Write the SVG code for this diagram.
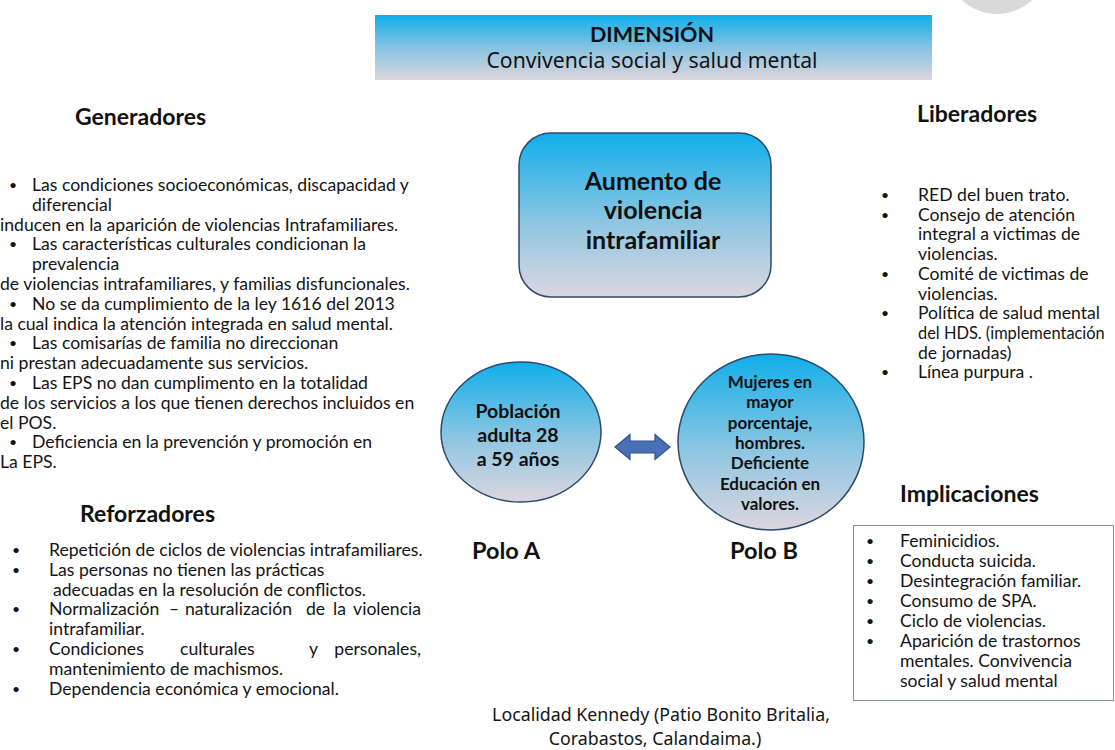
<svg xmlns="http://www.w3.org/2000/svg" width="1115" height="750" viewBox="0 0 1115 750">
  <defs>
    <linearGradient id="skyFade" x1="0" y1="0" x2="0" y2="1">
      <stop offset="0" stop-color="#0eaeea"/>
      <stop offset="0.5" stop-color="#86c3e2"/>
      <stop offset="1" stop-color="#dcd6dd"/>
    </linearGradient>
    <linearGradient id="poleFade" x1="0" y1="0" x2="0" y2="1">
      <stop offset="0" stop-color="#10aeea"/>
      <stop offset="0.55" stop-color="#8ec6e2"/>
      <stop offset="1" stop-color="#ddd6de"/>
    </linearGradient>
    <style>
      .txt { font-family: Lato, "Liberation Sans", sans-serif; font-size: 17.6px; fill: #141414; }
      .dot { font-size: 14px; }
      .end { text-anchor: end; }
      .head { font-family: Lato, "Liberation Sans", sans-serif; font-size: 23px; font-weight: bold; fill: #111; }
      .bold { font-family: Lato, "Liberation Sans", sans-serif; font-weight: bold; fill: #111; text-anchor: middle; }
      .ui { font-family: "Noto Sans", "Open Sans", sans-serif; fill: #141414; text-anchor: middle; }
      .shape { stroke: #2b4a6e; stroke-width: 1.5; }
    </style>
  </defs>

  <rect width="1115" height="750" fill="#ffffff"/>

  <!-- decorative grey disc at the top edge -->
  <circle cx="997" cy="-37" r="51" fill="#d9d9d9"/>

  <!-- title band -->
  <g id="dimension">
    <rect x="375" y="15" width="557" height="65" fill="url(#skyFade)"/>
    <text class="bold" x="652" y="42" style="font-size:21.5px">DIMENSIÓN</text>
    <text class="ui" x="652" y="68" style="font-size:21.2px">Convivencia social y salud mental</text>
  </g>

  <!-- central problem -->
  <g id="problema">
    <rect class="shape" x="519" y="133" width="252" height="164" rx="32" ry="32" fill="url(#poleFade)"/>
    <text class="bold" x="653" y="190" style="font-size:25px">Aumento de</text>
    <text class="bold" x="653" y="219" style="font-size:25px">violencia</text>
    <text class="bold" x="653" y="249" style="font-size:25px">intrafamiliar</text>
  </g>

  <!-- pole A -->
  <g id="polo-a">
    <ellipse class="shape" cx="521" cy="432" rx="80" ry="70" fill="url(#poleFade)"/>
    <text class="bold" x="518" y="418" style="font-size:19.5px">Población</text>
    <text class="bold" x="518" y="442" style="font-size:19.5px">adulta 28</text>
    <text class="bold" x="518" y="466" style="font-size:19.5px">a 59 años</text>
    <text class="bold" x="506" y="559" style="font-size:23.5px">Polo A</text>
  </g>

  <!-- pole B -->
  <g id="polo-b">
    <ellipse class="shape" cx="771" cy="442" rx="93" ry="88" fill="url(#poleFade)"/>
    <g class="bold" style="font-size:17px">
      <text x="770" y="388">Mujeres en</text>
      <text x="770" y="408">mayor</text>
      <text x="770" y="429">porcentaje,</text>
      <text x="770" y="449">hombres.</text>
      <text x="770" y="469">Deficiente</text>
      <text x="770" y="490">Educación en</text>
      <text x="770" y="510">valores.</text>
    </g>
    <text class="bold" x="764" y="559" style="font-size:23.5px">Polo B</text>
  </g>

  <!-- two-way link between the poles -->
  <g id="connectors">
    <path d="M615,447 L630,434.5 L630,441 L655,441 L655,434.5 L670,447 L655,459.5 L655,453 L630,453 L630,459.5 Z" fill="#4a70b8" stroke="#2f528f" stroke-width="1.2"/>
  </g>

  <!-- Generadores -->
  <g id="generadores">
    <text class="head" x="75" y="125">Generadores</text>
    <g class="txt">
      <text class="dot" x="9" y="190">•</text><text x="32" y="191">Las condiciones socioeconómicas, discapacidad y</text>
      <text x="32" y="210.8">diferencial</text>
      <text x="0" y="230.6">inducen en la aparición de violencias Intrafamiliares.</text>
      <text class="dot" x="9" y="249.4">•</text><text x="32" y="250.4">Las características culturales condicionan la</text>
      <text x="32" y="270.2">prevalencia</text>
      <text x="0" y="290">de violencias intrafamiliares, y familias disfuncionales.</text>
      <text class="dot" x="9" y="308.8">•</text><text x="32" y="309.8">No se da cumplimiento de la ley 1616 del 2013</text>
      <text x="0" y="329.6">la cual indica la atención integrada en salud mental.</text>
      <text class="dot" x="9" y="348.4">•</text><text x="32" y="349.4">Las comisarías de familia no direccionan</text>
      <text x="0" y="369.2">ni prestan adecuadamente sus servicios.</text>
      <text class="dot" x="9" y="388">•</text><text x="32" y="389">Las EPS no dan cumplimento en la totalidad</text>
      <text x="0" y="408.8">de los servicios a los que tienen derechos incluidos en</text>
      <text x="0" y="428.6">el POS.</text>
      <text class="dot" x="9" y="447.4">•</text><text x="32" y="448.4">Deficiencia en la prevención y promoción en</text>
      <text x="0" y="468.2">La EPS.</text>
    </g>
  </g>

  <!-- Reforzadores -->
  <g id="reforzadores">
    <text class="head" x="80" y="522">Reforzadores</text>
    <g class="txt">
      <text class="dot" x="12" y="555">•</text><text x="49" y="556">Repetición de ciclos de violencias intrafamiliares.</text>
      <text class="dot" x="12" y="574.8">•</text><text x="49" y="575.8">Las personas no tienen las prácticas</text>
      <text x="53" y="595.6">adecuadas en la resolución de conflictos.</text>
      <text class="dot" x="12" y="614.4">•</text>
      <!-- justified line: words placed one by one -->
      <text x="49" y="615.4">Normalización</text>
      <text x="169" y="615.4">–</text>
      <text x="185" y="615.4">naturalización</text>
      <text x="306" y="615.4">de</text>
      <text x="333" y="615.4">la</text>
      <text class="end" x="421" y="615.4">violencia</text>
      <text x="49" y="635.2">intrafamiliar.</text>
      <text class="dot" x="12" y="654">•</text>
      <text x="49" y="655">Condiciones</text>
      <text x="180" y="655">culturales</text>
      <text x="309" y="655">y</text>
      <text class="end" x="421" y="655">personales,</text>
      <text x="49" y="674.8">mantenimiento de machismos.</text>
      <text class="dot" x="12" y="693.6">•</text><text x="49" y="694.6">Dependencia económica y emocional.</text>
    </g>
  </g>

  <!-- Liberadores -->
  <g id="liberadores">
    <text class="head" x="917" y="122">Liberadores</text>
    <g class="txt">
      <text class="dot" x="881" y="200">•</text><text x="918" y="201">RED del buen trato.</text>
      <text class="dot" x="881" y="219.7">•</text><text x="918" y="220.7">Consejo de atención</text>
      <text x="918" y="240.4">integral a victimas de</text>
      <text x="918" y="260.1">violencias.</text>
      <text class="dot" x="881" y="278.8">•</text><text x="918" y="279.8">Comité de victimas de</text>
      <text x="918" y="299.5">violencias.</text>
      <text class="dot" x="881" y="318.2">•</text><text x="918" y="319.2">Política de salud mental</text>
      <text x="918" y="338.9" style="font-size:16.4px">del HDS. (implementación</text>
      <text x="918" y="358.6">de jornadas)</text>
      <text class="dot" x="881" y="377.3">•</text><text x="918" y="378.3">Línea purpura .</text>
    </g>
  </g>

  <!-- Implicaciones -->
  <g id="implicaciones">
    <text class="head" x="900" y="502">Implicaciones</text>
    <rect x="853.5" y="525.5" width="260" height="175" fill="#ffffff" stroke="#8290a8" stroke-width="1"/>
    <g class="txt">
      <text class="dot" x="866" y="546">•</text><text x="900" y="547">Feminicidios.</text>
      <text class="dot" x="866" y="566">•</text><text x="900" y="567">Conducta suicida.</text>
      <text class="dot" x="866" y="586">•</text><text x="900" y="587">Desintegración familiar.</text>
      <text class="dot" x="866" y="606">•</text><text x="900" y="607">Consumo de SPA.</text>
      <text class="dot" x="866" y="626">•</text><text x="900" y="627">Ciclo de violencias.</text>
      <text class="dot" x="866" y="646">•</text><text x="900" y="647">Aparición de trastornos</text>
      <text x="900" y="667">mentales. Convivencia</text>
      <text x="900" y="687">social y salud mental</text>
    </g>
  </g>

  <!-- locality note -->
  <g id="localidad">
    <text class="ui" x="661" y="721" style="font-size:17.8px">Localidad Kennedy (Patio Bonito Britalia,</text>
    <text class="ui" x="655" y="745" style="font-size:17.8px">Corabastos, Calandaima.)</text>
  </g>
</svg>
